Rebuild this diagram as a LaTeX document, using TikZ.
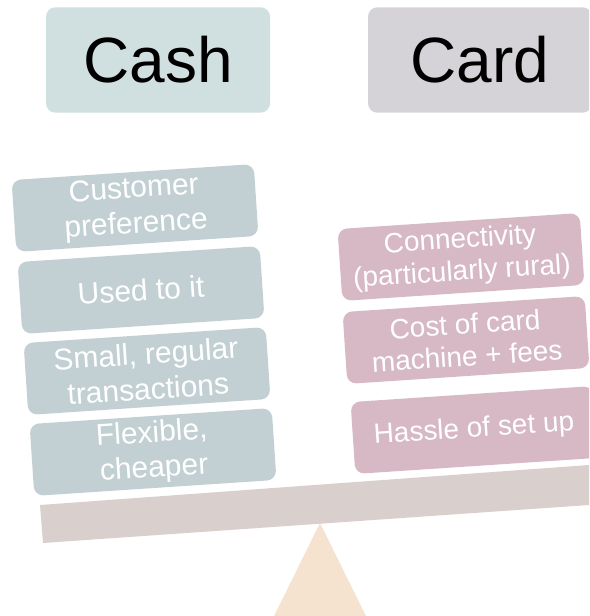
\documentclass[tikz,border=0pt]{standalone}
\usepackage{fontspec}
\setmainfont{Liberation Sans}
\definecolor{cashhead}{HTML}{D0DFE0}
\definecolor{cardhead}{HTML}{D5D2D8}
\definecolor{cashbox}{HTML}{C3D0D3}
\definecolor{cardbox}{HTML}{D6B9C4}
\definecolor{beam}{HTML}{D9D0CE}
\definecolor{pivot}{HTML}{F5E2CF}

\begin{document}
\begin{tikzpicture}[x=0.75pt, y=-0.75pt,
    head/.style={rounded corners=7pt, minimum width=168pt, minimum height=79pt, inner sep=0pt,
        font=\fontsize{48}{52}\selectfont},
    reason/.style={rounded corners=7pt, minimum width=182pt, minimum height=54pt, inner sep=0pt,
        align=center, text=white, rotate=3.8},
    pro/.style={reason, fill=cashbox, font=\fontsize{22.5}{22.5}\selectfont},
    con/.style={reason, fill=cardbox, font=\fontsize{21}{21}\selectfont}]
    \clip (0, 0) rectangle (589, 616);

    % headings
    \node[head, fill=cashhead] (cash) at (158, 60) {Cash};
    \node[head, fill=cardhead] (card) at (480, 60) {Card};

    % pivot and beam
    \fill[pivot] (320, 523) -- (366, 616) -- (274, 616) -- cycle;
    \fill[beam] (40, 505) -- (589, 465) -- (589, 505) -- (43, 543) -- cycle;

    % reasons for cash
    \node[pro] (pref) at (135, 208) {Customer\\[4pt]preference};
    \node[pro] (used) at (141, 290) {Used to it};
    \node[pro] (small) at (147, 371) {Small, regular\\[4pt]transactions};
    \node[pro] (flex) at (153, 452) {Flexible,\\[4pt]cheaper};

    % reasons against card
    \node[con] (conn) at (461, 257) {Connectivity\\[3pt](particularly rural)};
    \node[con] (cost) at (466, 340) {Cost of card\\[3pt]machine + fees};
    \node[con] (hassle) at (474, 430) {Hassle of set up};
\end{tikzpicture}
\end{document}
